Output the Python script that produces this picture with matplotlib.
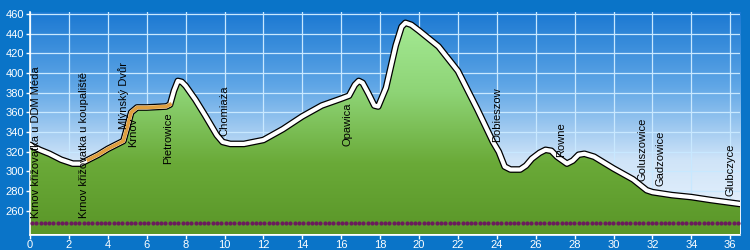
import numpy as np
import matplotlib
matplotlib.use("Agg")
import matplotlib.pyplot as plt
from matplotlib.colors import LinearSegmentedColormap

plt.rcParams['font.family'] = ['Liberation Sans', 'DejaVu Sans']

# elevation profile (km, m)
dist = [0, 0.5, 1, 1.6, 2.2, 2.6, 3, 3.5, 4, 4.8, 5.0, 5.2, 5.5, 6, 7, 7.2, 7.4, 7.6, 7.8, 8, 8.5, 9, 9.6,
        9.9, 10.3, 11, 11.5, 12, 13, 14, 15, 16, 16.4, 16.7, 16.9, 17.1, 17.4, 17.7, 17.9, 18.3, 18.8,
        19.1, 19.3, 19.6, 20, 21, 22, 23, 23.8, 24.1, 24.4, 24.7, 25.2, 25.5, 25.8, 26.2, 26.5, 26.8,
        27.1, 27.6, 27.9, 28.2, 28.5, 29, 30, 31, 31.7, 32, 33, 34, 35, 36.5]
elev = [327, 322, 318, 312, 308, 308, 312, 317, 323, 331, 345, 360, 365, 365, 366, 368, 382, 392, 391, 387,
        373, 357, 337, 330, 328, 328, 330, 332, 343, 356, 367, 374, 377, 388, 392, 390, 379, 367, 366, 385,
        428, 447, 451, 449, 443, 427, 402, 363, 330, 320, 305, 302, 302, 306, 313, 319, 322, 321,
        315, 308, 311, 317, 318, 315, 303, 292, 281, 279, 276, 274, 271, 267]

orange_start, orange_end = 3.0, 7.2

places = ["Krnov křižovatka u DDM Méda", "Krnov křižovatka u koupaliště", "Mlýnský Dvůr", "Krnov",
          "Pietrowice", "Chomiaża", "Opawica", "Dobieszow", "Rowne", "Goluszowice", "Gadzowice", "Glubczyce"]
place_x = [0.3, 2.8, 4.8, 5.3, 7.1, 10.0, 16.3, 24.0, 27.3, 31.5, 32.4, 36.0]
place_y = [253, 253, 343, 325, 308, 336, 326, 330, 315, 290, 285, 275]

yticks = list(range(260, 461, 20))
xticks = list(range(0, 37, 2))

fig = plt.figure(figsize=(7.5, 2.5), dpi=100)
fig.patch.set_facecolor('#0a74c8')
ax = fig.add_axes([0.04, 0.062, 0.9467, 0.89])
xmin, xmax, ymin, ymax = 0, 36.5, 236, 462
ax.set_xlim(xmin, xmax)
ax.set_ylim(ymin, ymax)

# sky gradient
sky = LinearSegmentedColormap.from_list('sky', ['#eef6fe', '#cfe4f8', '#5fa6e6', '#1a78d2'])
grad = np.linspace(0, 1, 256).reshape(-1, 1)
ax.imshow(grad, extent=[xmin, xmax, ymin, ymax], origin='lower', aspect='auto', cmap=sky, zorder=0)

ax.grid(True, color='#c8e8ff', lw=0.9, zorder=1)
ax.set_axisbelow(True)

# green fill with gradient
green = LinearSegmentedColormap.from_list('grn', ['#5a9628', '#6aaa38', '#8ed476', '#a4ea94'])
gimg = ax.imshow(grad, extent=[xmin, xmax, ymin, 452], origin='lower', aspect='auto', cmap=green, zorder=2)
poly = ax.fill_between(dist, elev, ymin, color='none', zorder=2)
clip = poly.get_paths()[0]
gimg.set_clip_path(clip, transform=ax.transData)

ax.plot(dist, elev, color='black', lw=4.8, zorder=3, solid_capstyle='round', solid_joinstyle='round')
ax.plot(dist, elev, color='white', lw=3.0, zorder=4, solid_joinstyle='round')
d = np.array(dist)
e = np.array(elev)
seg = (d >= orange_start) & (d <= orange_end)
ax.plot(d[seg], e[seg], color='#e0a040', lw=2.6, zorder=5, solid_joinstyle='round')

# dotted row
dots_x = np.linspace(0.1, 36.4, 165)
ax.plot(dots_x, np.full_like(dots_x, 248), 'o', color='#6a1c5c', ms=3.0, mew=0, zorder=5)

for name, px, py in zip(places, place_x, place_y):
    ax.text(px, py, name, rotation=90, ha='center', va='bottom', fontsize=8, color='black', zorder=6)

ax.set_yticks(yticks)
ax.set_xticks(xticks)
ax.tick_params(colors='white', labelsize=8, length=3, width=1, pad=1)
for s in ['top', 'right']:
    ax.spines[s].set_visible(False)
for s in ['left', 'bottom']:
    ax.spines[s].set_color('white')
    ax.spines[s].set_linewidth(1.2)

fig.savefig('out.png', dpi=100, facecolor=fig.get_facecolor())
